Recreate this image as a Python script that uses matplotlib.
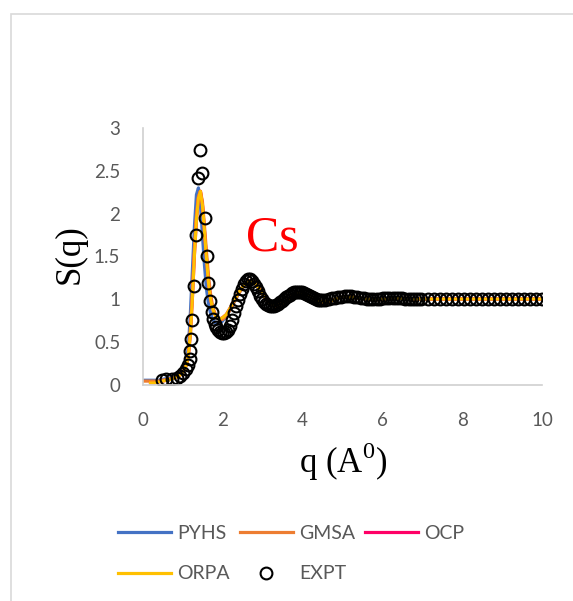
import numpy as np
import matplotlib
matplotlib.use('Agg')
import matplotlib.pyplot as plt
from matplotlib.patches import Rectangle

plt.rcParams['font.family'] = ['Lato', 'DejaVu Sans']
plt.rcParams['mathtext.fontset'] = 'custom'
plt.rcParams['mathtext.rm'] = 'Liberation Serif'

# q grid of the model curves
q_th = [0.0, 0.1, 0.2, 0.3, 0.4, 0.5, 0.6, 0.7, 0.8, 0.9, 1.0,
        1.05, 1.1, 1.15, 1.2, 1.25, 1.3, 1.35, 1.4, 1.45, 1.5,
        1.55, 1.6, 1.65, 1.7, 1.75, 1.8, 1.85, 1.9, 1.95, 2.0,
        2.1, 2.2, 2.3, 2.4, 2.5, 2.6, 2.7, 2.8, 2.9, 3.0,
        3.1, 3.2, 3.3, 3.4, 3.5, 3.6, 3.7, 3.8, 3.9, 4.0,
        4.1, 4.2, 4.3, 4.4, 4.5, 4.6, 4.7, 4.8, 4.9, 5.0,
        5.2, 5.4, 5.6, 5.8, 6.0, 6.2, 6.4, 6.6, 6.8, 7.0,
        7.5, 8.0, 8.5, 9.0, 9.5, 10.0]

s_pyhs = [0.05, 0.05, 0.05, 0.05, 0.05, 0.06, 0.07, 0.08, 0.09, 0.12, 0.16,
          0.20, 0.27, 0.45, 0.85, 1.35, 1.85, 2.22, 2.30, 2.10, 1.75,
          1.40, 1.12, 0.95, 0.84, 0.77, 0.73, 0.71, 0.71, 0.72, 0.74,
          0.80, 0.88, 0.97, 1.06, 1.13, 1.18, 1.20, 1.18, 1.12, 1.05,
          0.99, 0.95, 0.93, 0.94, 0.96, 0.99, 1.03, 1.06, 1.07, 1.07,
          1.05, 1.03, 1.00, 0.98, 0.97, 0.97, 0.98, 0.99, 1.01, 1.02,
          1.02, 1.01, 1.00, 0.99, 1.00, 1.00, 1.01, 1.00, 1.00, 1.00,
          1.00, 1.00, 1.00, 1.00, 1.00, 1.00]

s_gmsa = [0.04, 0.04, 0.04, 0.04, 0.04, 0.05, 0.06, 0.07, 0.08, 0.10, 0.14,
          0.18, 0.24, 0.37, 0.66, 1.10, 1.60, 1.98, 2.20, 2.26, 2.14,
          1.86, 1.56, 1.28, 1.07, 0.93, 0.85, 0.80, 0.77, 0.76, 0.76,
          0.80, 0.88, 0.97, 1.06, 1.13, 1.19, 1.22, 1.21, 1.16, 1.08,
          1.00, 0.94, 0.91, 0.91, 0.93, 0.97, 1.01, 1.05, 1.07, 1.08,
          1.06, 1.03, 1.00, 0.97, 0.96, 0.96, 0.97, 0.99, 1.01, 1.02,
          1.03, 1.02, 1.00, 0.99, 0.99, 1.00, 1.01, 1.01, 1.00, 1.00,
          1.00, 1.00, 1.00, 1.00, 1.00, 1.00]

s_ocp = [np.nan, np.nan, 0.02, 0.02, 0.03, 0.04, 0.05, 0.06, 0.08, 0.10, 0.13,
         0.17, 0.23, 0.35, 0.60, 1.02, 1.52, 1.93, 2.18, 2.26, 2.10,
         1.80, 1.48, 1.20, 1.01, 0.90, 0.83, 0.79, 0.77, 0.77, 0.78,
         0.82, 0.90, 0.99, 1.07, 1.14, 1.19, 1.21, 1.19, 1.13, 1.06,
         0.99, 0.95, 0.93, 0.93, 0.95, 0.98, 1.02, 1.05, 1.07, 1.07,
         1.05, 1.03, 1.00, 0.98, 0.97, 0.97, 0.98, 0.99, 1.01, 1.02,
         1.02, 1.01, 1.00, 0.99, 1.00, 1.00, 1.01, 1.00, 1.00, 1.00,
         1.00, 1.00, 1.00, 1.00, 1.00, 1.00]

s_orpa = [np.nan, np.nan, 0.02, 0.02, 0.03, 0.04, 0.05, 0.06, 0.08, 0.10, 0.13,
          0.17, 0.23, 0.35, 0.60, 1.02, 1.52, 1.93, 2.18, 2.26, 2.10,
          1.80, 1.48, 1.20, 1.01, 0.90, 0.83, 0.79, 0.77, 0.77, 0.78,
          0.82, 0.90, 0.99, 1.07, 1.14, 1.19, 1.21, 1.19, 1.13, 1.06,
          0.99, 0.95, 0.93, 0.93, 0.95, 0.98, 1.02, 1.05, 1.07, 1.07,
          1.05, 1.03, 1.00, 0.98, 0.97, 0.97, 0.98, 0.99, 1.01, 1.02,
          1.02, 1.01, 1.00, 0.99, 1.00, 1.00, 1.01, 1.00, 1.00, 1.00,
          1.00, 1.00, 1.00, 1.00, 1.00, 1.00]

# experimental points
q_expt = [0.48, 0.6, 0.73, 0.86, 0.94, 1.02, 1.1, 1.15, 1.18, 1.2, 1.21, 1.24,
          1.3, 1.34, 1.38, 1.45, 1.5, 1.57, 1.61, 1.65, 1.69, 1.73,
          1.77, 1.81, 1.85, 1.9, 1.95, 2.0, 2.05, 2.1, 2.15, 2.2,
          2.25, 2.3, 2.35, 2.4, 2.45, 2.5, 2.55, 2.6, 2.65, 2.7,
          2.75, 2.8, 2.85, 2.9, 2.95, 3.0, 3.05, 3.1, 3.15, 3.2,
          3.25, 3.3, 3.35, 3.4, 3.45, 3.5, 3.55, 3.6, 3.65, 3.7,
          3.75, 3.8, 3.85, 3.9, 3.95, 4.0, 4.05, 4.1, 4.15, 4.2,
          4.25, 4.3, 4.35, 4.4, 4.45, 4.5,
          4.58, 4.66, 4.74, 4.82, 4.9, 4.98, 5.06, 5.14, 5.22, 5.3,
          5.38, 5.46, 5.54, 5.62, 5.7, 5.78, 5.86, 5.94, 6.02, 6.1,
          6.18, 6.26, 6.34, 6.42, 6.5, 6.58, 6.66, 6.74, 6.82, 6.9, 6.98,
          7.15, 7.3, 7.45, 7.6, 7.75, 7.9, 8.05, 8.2, 8.35, 8.5,
          8.65, 8.8, 8.95, 9.1, 9.25, 9.4, 9.55, 9.7, 9.85, 10.0]
s_expt = [0.05, 0.06, 0.07, 0.08, 0.10, 0.13, 0.18, 0.23, 0.30, 0.39, 0.53, 0.75,
          1.15, 1.75, 2.42, 2.74, 2.47, 1.95, 1.50, 1.19, 0.98, 0.85,
          0.77, 0.71, 0.67, 0.64, 0.62, 0.60, 0.60, 0.61, 0.64, 0.69,
          0.76, 0.84, 0.92, 0.99, 1.06, 1.12, 1.17, 1.21, 1.23, 1.23,
          1.21, 1.18, 1.14, 1.09, 1.04, 1.00, 0.97, 0.94, 0.93, 0.92,
          0.92, 0.92, 0.93, 0.94, 0.96, 0.98, 1.00, 1.02, 1.04, 1.05,
          1.07, 1.08, 1.08, 1.08, 1.08, 1.08, 1.07, 1.06, 1.05, 1.04,
          1.02, 1.01, 1.00, 0.99, 0.99, 0.99,
          0.99, 1.00, 1.01, 1.01, 1.02, 1.02, 1.03, 1.03, 1.03, 1.02,
          1.02, 1.01, 1.01, 1.00, 1.00, 1.00, 1.00, 1.00, 1.01, 1.01,
          1.01, 1.01, 1.01, 1.01, 1.01, 1.00, 1.00, 1.00, 1.00, 1.00, 1.00,
          1.00, 1.00, 1.00, 1.00, 1.00, 1.00, 1.00, 1.00, 1.00, 1.00,
          1.00, 1.00, 1.00, 1.00, 1.00, 1.00, 1.00, 1.00, 1.00, 1.00]

x_ticks = [0, 2, 4, 6, 8, 10]
y_ticks = [0, 0.5, 1, 1.5, 2, 2.5, 3]
y_ticklabels = ['0', '0.5', '1', '1.5', '2', '2.5', '3']

grey = '#595959'
fig = plt.figure(figsize=(5.73, 6.01), dpi=100)
ax = fig.add_axes([0.2487, 0.3602, 0.6972, 0.4268])

lw = 2.3
h_pyhs, = ax.plot(q_th, s_pyhs, color='#4472C4', lw=lw, label='PYHS')
h_gmsa, = ax.plot(q_th, s_gmsa, color='#ED7D31', lw=lw, label='GMSA')
h_ocp, = ax.plot(q_th, s_ocp, color='#FF0066', lw=lw, label='OCP')
h_orpa, = ax.plot(q_th, s_orpa, color='#FFC000', lw=lw, label='ORPA')
h_expt, = ax.plot(q_expt, s_expt, ls='none', marker='o', ms=8.5, mfc='none',
                  mec='black', mew=1.5, label='EXPT')

ax.set_xlim(0, 10)
ax.set_ylim(0, 3)
ax.set_xticks(x_ticks)
ax.set_yticks(y_ticks)
ax.set_yticklabels(y_ticklabels)
ax.tick_params(length=0, labelsize=13.5, labelcolor=grey)
ax.tick_params(axis='x', pad=20)
ax.tick_params(axis='y', pad=16)
for s in ['top', 'right']:
    ax.spines[s].set_visible(False)
for s in ['left', 'bottom']:
    ax.spines[s].set_color('#d0d0d0')
    ax.spines[s].set_linewidth(1.2)

ax.text(2.58, 1.57, 'Cs', color='red', fontsize=36, family='Liberation Serif')

fig.text(70 / 573, 1 - 254 / 601, 'S(q)', rotation=90, fontsize=25,
         family='Liberation Serif', ha='center', va='center')
fig.text(343 / 573, 1 - 462 / 601, 'q (A$^{0}$)', fontsize=25,
         family='Liberation Serif', ha='center', va='center')

# legend, row-major order
handles = [h_pyhs, h_orpa, h_gmsa, h_expt, h_ocp]
labels = [h.get_label() for h in handles]
fig.legend(handles, labels, ncol=3, loc='upper left',
           bbox_to_anchor=(118 / 573, 1 - 525 / 601), frameon=False,
           fontsize=14, labelcolor=grey, handlelength=2.75,
           handletextpad=0.3, columnspacing=0.5, labelspacing=1.2,
           borderpad=0, borderaxespad=0, numpoints=1)

# chart area border
fig.add_artist(Rectangle((11 / 573, -0.1), 1.2, 1.1 - 14 / 601,
                         transform=fig.transFigure, fill=False,
                         edgecolor='#d9d9d9', lw=1.2))

fig.savefig('out.png', dpi=100)
